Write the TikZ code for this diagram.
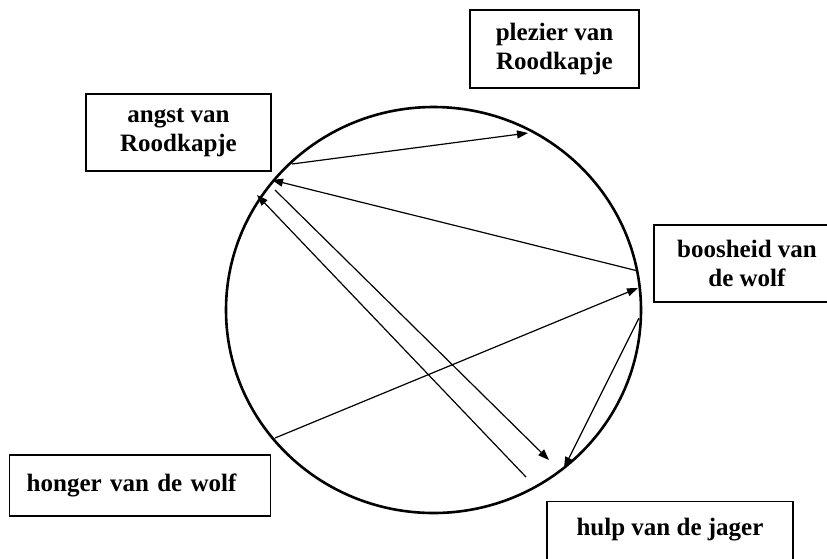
\documentclass[tikz,border=0pt]{standalone}
\usepackage{fontspec}
\setmainfont{Liberation Serif}
\usetikzlibrary{arrows.meta}
\tikzset{
  rim/.style={line width=2.6pt},
  box/.style={draw, line width=1.3pt, inner sep=0pt, align=center,
    font=\bfseries\fontsize{25}{29.5}\selectfont},
  arr/.style={line width=1.2pt, -{Triangle[length=11pt,width=8pt]}},
  link/.style={line width=1.2pt}
}
\begin{document}
\begin{tikzpicture}[x=1pt,y=-1pt]
\clip (0,0) rectangle (827,558);
\fill[white] (0,0) rectangle (827,558);
% the circle
\draw[rim] (433.5,310) ellipse [x radius=207.5, y radius=203];
% boxes
\node[box, minimum width=169, minimum height=78] (plezier) at (554.5,49) {plezier van\\Roodkapje};
\node[box, minimum width=185, minimum height=77] (angst) at (178.5,132.5) {angst van\\Roodkapje};
\node[box, minimum width=186, minimum height=77] (boos) at (747,263.5) {boosheid van\\de wolf};
\node[box, minimum height=61, text width=226.5, inner xsep=17.5, align=left] (honger) at (140,485.5) {honger van de wolf};
\node[box, minimum width=246, text height=34, text depth=40, anchor=north] (hulp) at (670,501) {hulp van de jager};
% points on the circle
\coordinate (a1) at (292,164);
\coordinate (a2) at (272,180);
\coordinate (a3) at (257,195);
\coordinate (a4) at (275,190);
\coordinate (p1) at (528,133);
\coordinate (b1) at (638,271);
\coordinate (b2) at (638,288);
\coordinate (b3) at (639,318);
\coordinate (w0) at (275,438);
\coordinate (j0) at (526,477);
\coordinate (j1) at (549,460);
\coordinate (j2) at (564,468);
% connectors
\draw[arr] (a1) -- (p1);
\draw[arr] (b1) -- (a2);
\draw[arr] (j0) -- (a3);
\draw[arr] (a4) -- (j1);
\draw[arr] (w0) -- (b2);
\draw[arr] (b3) -- (j2);
\end{tikzpicture}
\end{document}
